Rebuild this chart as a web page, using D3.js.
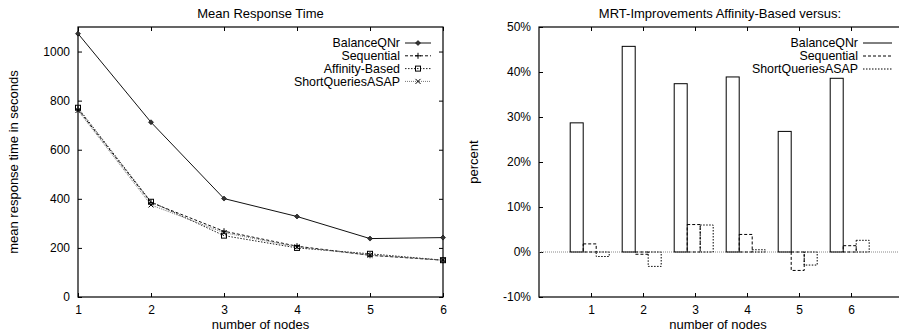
<!DOCTYPE html>
<html>
<head>
<meta charset="utf-8">
<script src="https://cdn.jsdelivr.net/npm/d3@7"></script>
<style>
  body { margin: 0; background: #fff; }
  svg { display: block; font-family: "Liberation Sans", Arial, sans-serif; }
</style>
</head>
<body>
<svg id="chart" width="899" height="332"></svg>
<script>
// data
const nodes = [1, 2, 3, 4, 5, 6];
const balanceQNr = [1073, 712, 401, 328, 238, 242];
const sequential = [765, 385, 268, 207, 170, 150];
const affinityBased = [771, 388, 250, 200, 176, 150];
const shortQueriesASAP = [760, 375, 262, 204, 170, 150];

const impBalance = [28.7, 45.7, 37.4, 38.9, 26.8, 38.6];
const impSequential = [1.8, -0.5, 6.1, 3.9, -4.1, 1.4];
const impShortQueries = [-1.0, -3.2, 6.0, 0.5, -2.9, 2.6];

const mrtTicks = [0, 200, 400, 600, 800, 1000];
const pctTicks = [-10, 0, 10, 20, 30, 40, 50];

const svg = d3.select("#chart");
const fs = 12;
const tfs = 13;
const lfs = 12.4; // legend

// ---------- left: Mean Response Time ----------
const L = { x0: 78, x1: 443, y0: 297, y1: 27 };
const xL = d3.scaleLinear().domain([1, 6]).range([L.x0, L.x1]);
const yL = d3.scaleLinear().domain([0, 1100]).range([L.y0, L.y1]);

const left = svg.append("g");

left.append("g")
  .attr("transform", `translate(0,${L.y0})`)
  .call(d3.axisBottom(xL).tickValues(nodes).tickSizeInner(-4).tickSizeOuter(0).tickPadding(8).tickFormat(d3.format("d")))
  .call(g => g.select(".domain").remove());
left.append("g")
  .attr("transform", `translate(0,${L.y1})`)
  .call(d3.axisTop(xL).tickValues(nodes).tickSizeInner(-4).tickSizeOuter(0).tickFormat(""))
  .call(g => g.select(".domain").remove());
left.append("g")
  .attr("transform", `translate(${L.x0},0)`)
  .call(d3.axisLeft(yL).tickValues(mrtTicks).tickSizeInner(-4).tickSizeOuter(0).tickPadding(8).tickFormat(d3.format("d")))
  .call(g => g.select(".domain").remove());
left.append("g")
  .attr("transform", `translate(${L.x1},0)`)
  .call(d3.axisRight(yL).tickValues(mrtTicks).tickSizeInner(-4).tickSizeOuter(0).tickFormat(""))
  .call(g => g.select(".domain").remove());

left.append("rect")
  .attr("x", L.x0).attr("y", L.y1)
  .attr("width", L.x1 - L.x0).attr("height", L.y0 - L.y1)
  .attr("fill", "none").attr("stroke", "#000").attr("stroke-width", 1.2);

const series = [
  { name: "BalanceQNr", values: balanceQNr, dash: null, color: "#111", marker: "diamond" },
  { name: "Sequential", values: sequential, dash: "3,2", color: "#111", marker: "plus" },
  { name: "Affinity-Based", values: affinityBased, dash: "1.5,1.5", color: "#222", marker: "square" },
  { name: "ShortQueriesASAP", values: shortQueriesASAP, dash: "1,1", color: "#777", marker: "cross" }
];

const line = d3.line().x((d, i) => xL(nodes[i])).y(d => yL(d));

function drawMarker(g, type, x, y) {
  if (type === "diamond") {
    g.append("path").attr("d", `M${x},${y - 2.5}L${x + 2.5},${y}L${x},${y + 2.5}L${x - 2.5},${y}Z`)
      .attr("fill", "#333").attr("stroke", "#000").attr("stroke-width", 0.6);
  } else if (type === "plus") {
    g.append("path").attr("d", `M${x - 3},${y}H${x + 3}M${x},${y - 3}V${y + 3}`)
      .attr("stroke", "#000").attr("stroke-width", 1);
  } else if (type === "square") {
    g.append("rect").attr("x", x - 2.5).attr("y", y - 2.5).attr("width", 5).attr("height", 5)
      .attr("fill", "none").attr("stroke", "#000").attr("stroke-width", 1);
  } else {
    g.append("path").attr("d", `M${x - 2.5},${y - 2.5}L${x + 2.5},${y + 2.5}M${x - 2.5},${y + 2.5}L${x + 2.5},${y - 2.5}`)
      .attr("stroke", "#000").attr("stroke-width", 1);
  }
}

series.forEach(s => {
  left.append("path")
    .attr("d", line(s.values))
    .attr("fill", "none")
    .attr("stroke", s.color)
    .attr("stroke-width", 1)
    .attr("stroke-dasharray", s.dash);
  s.values.forEach((v, i) => drawMarker(left, s.marker, xL(nodes[i]), yL(v)));
});

// legend
series.forEach((s, i) => {
  const y = 43 + i * 12.8;
  left.append("text").attr("x", 400).attr("y", y).attr("dy", "0.35em")
    .attr("text-anchor", "end").attr("font-size", lfs).text(s.name);
  left.append("line").attr("x1", 405).attr("x2", 431).attr("y1", y).attr("y2", y)
    .attr("stroke", s.color).attr("stroke-dasharray", s.dash);
  drawMarker(left, s.marker, 418, y);
});

left.append("text").attr("x", (L.x0 + L.x1) / 2).attr("y", 18)
  .attr("text-anchor", "middle").attr("font-size", tfs).text("Mean Response Time");
left.append("text").attr("x", (L.x0 + L.x1) / 2).attr("y", 329)
  .attr("text-anchor", "middle").attr("font-size", tfs).text("number of nodes");
left.append("text")
  .attr("transform", `translate(18,${(L.y0 + L.y1) / 2}) rotate(-90)`)
  .attr("text-anchor", "middle").attr("font-size", tfs).text("mean response time in seconds");

// ---------- right: improvements ----------
const R = { x0: 539, x1: 903, y0: 297, y1: 27 };
const xR = d3.scaleLinear().domain([0, 7]).range([R.x0, R.x1]);
const yR = d3.scaleLinear().domain([-10, 50]).range([R.y0, R.y1]);

const right = svg.append("g");

right.append("g")
  .attr("transform", `translate(0,${R.y0})`)
  .call(d3.axisBottom(xR).tickValues(nodes).tickSizeInner(-4).tickSizeOuter(0).tickPadding(8).tickFormat(d3.format("d")))
  .call(g => g.select(".domain").remove());
right.append("g")
  .attr("transform", `translate(0,${R.y1})`)
  .call(d3.axisTop(xR).tickValues(nodes).tickSizeInner(-4).tickSizeOuter(0).tickFormat(""))
  .call(g => g.select(".domain").remove());
right.append("g")
  .attr("transform", `translate(${R.x0},0)`)
  .call(d3.axisLeft(yR).tickValues(pctTicks).tickSizeInner(-4).tickSizeOuter(0).tickPadding(8)
    .tickFormat(d => d + "%"))
  .call(g => g.select(".domain").remove());

right.append("rect")
  .attr("x", R.x0).attr("y", R.y1)
  .attr("width", R.x1 - R.x0).attr("height", R.y0 - R.y1)
  .attr("fill", "none").attr("stroke", "#000").attr("stroke-width", 1.2);

right.append("line")
  .attr("x1", R.x0).attr("x2", R.x1).attr("y1", yR(0)).attr("y2", yR(0))
  .attr("stroke", "#888").attr("stroke-dasharray", "1,1");

const barSeries = [
  { name: "BalanceQNr", values: impBalance, dash: null },
  { name: "Sequential", values: impSequential, dash: "3,2" },
  { name: "ShortQueriesASAP", values: impShortQueries, dash: "1.5,1.5" }
];
const bw = 0.25;

barSeries.forEach((s, k) => {
  right.selectAll(null)
    .data(s.values)
    .enter()
    .append("rect")
    .attr("x", (d, i) => xR(nodes[i] - 0.4 + k * bw))
    .attr("width", xR(bw) - xR(0))
    .attr("y", d => yR(Math.max(0, d)))
    .attr("height", d => Math.abs(yR(0) - yR(d)))
    .attr("fill", "none")
    .attr("stroke", "#000")
    .attr("stroke-width", 1)
    .attr("stroke-dasharray", s.dash);
});

barSeries.forEach((s, i) => {
  const y = 43 + i * 13;
  right.append("text").attr("x", 858).attr("y", y).attr("dy", "0.35em")
    .attr("text-anchor", "end").attr("font-size", lfs).text(s.name);
  right.append("line").attr("x1", 863).attr("x2", 892).attr("y1", y).attr("y2", y)
    .attr("stroke", "#000").attr("stroke-dasharray", s.dash);
});

right.append("text").attr("x", 720).attr("y", 18)
  .attr("text-anchor", "middle").attr("font-size", tfs).text("MRT-Improvements Affinity-Based versus:");
right.append("text").attr("x", 718).attr("y", 329)
  .attr("text-anchor", "middle").attr("font-size", tfs).text("number of nodes");
right.append("text")
  .attr("transform", `translate(478,${(R.y0 + R.y1) / 2}) rotate(-90)`)
  .attr("text-anchor", "middle").attr("font-size", tfs).text("percent");

svg.selectAll(".tick text").attr("font-size", fs).attr("font-family", "Liberation Sans, Arial, sans-serif");
svg.selectAll(".tick line").attr("stroke", "#000");
</script>
</body>
</html>
